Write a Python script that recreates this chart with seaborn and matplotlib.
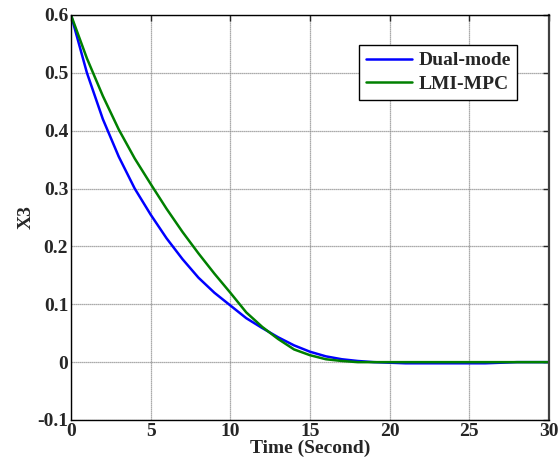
import numpy as np
import pandas as pd
import matplotlib
matplotlib.use("Agg")
import matplotlib.pyplot as plt
import seaborn as sns

# time samples (1 s step)
time = list(range(0, 31))

# X3 trajectories
dual_mode = [0.600, 0.500, 0.420, 0.355, 0.300, 0.255, 0.214, 0.178, 0.146, 0.120,
             0.098, 0.076, 0.059, 0.043, 0.029, 0.018, 0.010, 0.005, 0.002, 0.000,
             -0.001, -0.002, -0.002, -0.002, -0.002, -0.002, -0.002, -0.001, 0.000, 0.000, 0.000]
lmi_mpc = [0.600, 0.525, 0.460, 0.402, 0.352, 0.308, 0.265, 0.225, 0.188, 0.153,
           0.120, 0.086, 0.061, 0.040, 0.022, 0.012, 0.005, 0.002, 0.000, 0.000,
           0.000, 0.000, 0.000, 0.000, 0.000, 0.000, 0.000, 0.000, 0.000, 0.000, 0.000]

labels = ["Dual-mode", "LMI-MPC"]
colors = ["#0000ff", "#008000"]

df = pd.DataFrame({
    "t": time * 2,
    "x3": dual_mode + lmi_mpc,
    "method": [labels[0]] * len(time) + [labels[1]] * len(time),
})

sns.set_style("white")
plt.rcParams["font.family"] = ["Liberation Serif", "DejaVu Serif"]
plt.rcParams["font.weight"] = "bold"

fig = plt.figure(figsize=(5.59, 4.70), dpi=100)
ax = fig.add_axes([0.127, 0.1064, 0.855, 0.8617])

sns.lineplot(data=df, x="t", y="x3", hue="method", palette=colors,
             linewidth=1.8, ax=ax)

ax.set_xlim(0, 30)
ax.set_ylim(-0.1, 0.6)
ax.set_xticks([0, 5, 10, 15, 20, 25, 30])
ax.set_yticks([-0.1, 0, 0.1, 0.2, 0.3, 0.4, 0.5, 0.6])
ax.set_yticklabels(["-0.1", "0", "0.1", "0.2", "0.3", "0.4", "0.5", "0.6"])
ax.tick_params(direction="in", length=4, width=1, top=True, right=True,
               labelsize=14, pad=2)
for lab in ax.get_xticklabels() + ax.get_yticklabels():
    lab.set_fontweight("bold")

ax.grid(True, color="#909090", linestyle=(0, (1, 0.6)), linewidth=0.9)
for s in ax.spines.values():
    s.set_color("black")
    s.set_linewidth(1.0)
ax.spines["right"].set_color("#404040")
ax.spines["right"].set_linewidth(1.6)

ax.set_xlabel("Time (Second)", fontsize=14, fontweight="bold", labelpad=0)
ax.set_ylabel("X3", fontsize=14, fontweight="bold", labelpad=2)

leg = ax.legend(loc="upper right", bbox_to_anchor=(0.934, 0.926),
                borderaxespad=0, fancybox=False, framealpha=1,
                edgecolor="black", prop={"size": 14, "weight": "bold"},
                handlelength=2.4, handletextpad=0.3, labelspacing=0.3,
                borderpad=0.35)
leg.get_frame().set_linewidth(1.0)
leg.set_title(None)

fig.savefig("out.png", dpi=100)
